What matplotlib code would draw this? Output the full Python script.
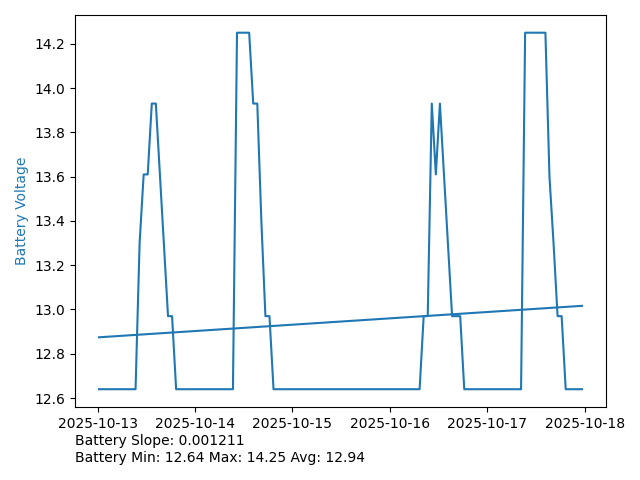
import numpy as np
import pandas as pd
import matplotlib
matplotlib.use("Agg")
import matplotlib.pyplot as plt
import matplotlib.dates as mdates

# hourly battery readings
start_time = "2025-10-13 00:20"
voltage = [
    12.64, 12.64, 12.64, 12.64, 12.64, 12.64, 12.64, 12.64, 12.64, 12.64,
    13.30, 13.61, 13.61, 13.93, 13.93, 13.61, 13.29, 12.97, 12.97, 12.64,
    12.64, 12.64, 12.64, 12.64, 12.64, 12.64, 12.64, 12.64, 12.64, 12.64,
    12.64, 12.64, 12.64, 12.64, 14.25, 14.25, 14.25, 14.25, 13.93, 13.93,
    13.40, 12.97, 12.97, 12.64, 12.64, 12.64, 12.64, 12.64, 12.64, 12.64,
    12.64, 12.64, 12.64, 12.64, 12.64, 12.64, 12.64, 12.64, 12.64, 12.64,
    12.64, 12.64, 12.64, 12.64, 12.64, 12.64, 12.64, 12.64, 12.64, 12.64,
    12.64, 12.64, 12.64, 12.64, 12.64, 12.64, 12.64, 12.64, 12.64, 12.64,
    12.97, 12.97, 13.93, 13.61, 13.93, 13.61, 13.29, 12.97, 12.97, 12.97,
    12.64, 12.64, 12.64, 12.64, 12.64, 12.64, 12.64, 12.64, 12.64, 12.64,
    12.64, 12.64, 12.64, 12.64, 12.64, 14.25, 14.25, 14.25, 14.25, 14.25,
    14.25, 13.60, 13.30, 12.97, 12.97, 12.64, 12.64, 12.64, 12.64, 12.64,
]
summary_lines = [
    "Battery Slope: 0.001211",
    "Battery Min: 12.64 Max: 14.25 Avg: 12.94",
]

times = pd.date_range(start_time, periods=len(voltage), freq="h")
v = np.array(voltage)

# linear trend (per hour)
hours = np.arange(len(v))
slope, intercept = np.polyfit(hours, v, 1)
trend = intercept + slope * hours

fig, ax = plt.subplots(figsize=(6.4, 4.8), dpi=100)
ax.plot(times, v, color="tab:blue")
ax.plot(times, trend, color="tab:blue")

ax.set_ylabel("Battery Voltage", color="tab:blue")
ax.xaxis.set_major_locator(mdates.DayLocator())
ax.xaxis.set_major_formatter(mdates.DateFormatter("%Y-%m-%d"))

fig.subplots_adjust(left=0.117, right=0.947, bottom=0.152, top=0.969)
fig.text(0.117, 0.095, "\n".join(summary_lines), va="top", ha="left",
         fontsize=10, linespacing=1.25)

plt.savefig("out.png", dpi=100)
